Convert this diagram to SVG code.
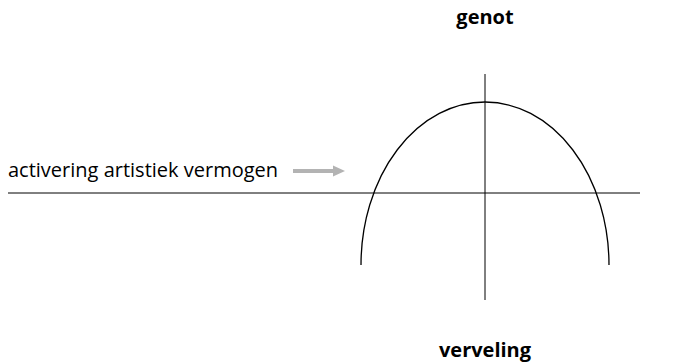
<svg xmlns="http://www.w3.org/2000/svg" width="680" height="363" viewBox="0 0 680 363">
<style>
.ax{stroke:#000;stroke-width:1;fill:none}
.cv{stroke:#000;stroke-width:1.3;fill:none}
.lbl{font-family:"Open Sans","Noto Sans",sans-serif;font-size:20px;fill:#000}
.b{font-weight:bold;text-anchor:middle}
</style>
<defs>
<marker id="ah" markerWidth="4" markerHeight="4" refX="1" refY="2" orient="auto" markerUnits="strokeWidth">
<path d="M0,0.6 L3,2 L0,3.4 z" fill="#b3b3b3"/>
</marker>
</defs>
<g id="connectors">
<line class="ax" x1="8" y1="193" x2="640" y2="193"/>
<line class="ax" x1="485" y1="74" x2="485" y2="300"/>
<path class="cv" d="M361,265 A124,163 0 0 1 609,265"/>
<line x1="293" y1="171" x2="337" y2="171" stroke="#b3b3b3" stroke-width="4" marker-end="url(#ah)"/>
</g>
<g id="genot"><text class="lbl b" x="485" y="24">genot</text></g>
<g id="verveling"><text class="lbl b" x="485" y="357">verveling</text></g>
<g id="activering"><text class="lbl" x="8" y="177">activering artistiek vermogen</text></g>
</svg>
